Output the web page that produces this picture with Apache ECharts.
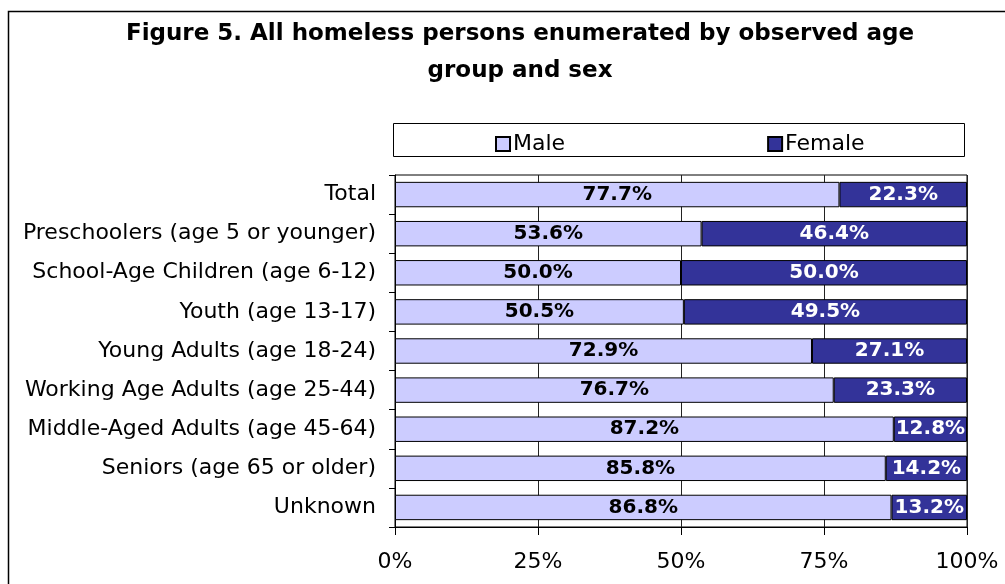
<!DOCTYPE html>
<html>
<head>
<meta charset="utf-8">
<script src="https://cdn.jsdelivr.net/npm/echarts@6/dist/echarts.min.js"></script>
<style>
  html, body { margin: 0; padding: 0; background: #fff; }
  #chart { width: 1005px; height: 584px; }
</style>
</head>
<body>
<div id="chart"></div>
<script>
// categories, top to bottom
const categories = [
  'Total',
  'Preschoolers (age 5 or younger)',
  'School-Age Children (age 6-12)',
  'Youth (age 13-17)',
  'Young Adults (age 18-24)',
  'Working Age Adults (age 25-44)',
  'Middle-Aged Adults (age 45-64)',
  'Seniors (age 65 or older)',
  'Unknown'
]
const maleValues = [77.7, 53.6, 50.0, 50.5, 72.9, 76.7, 87.2, 85.8, 86.8]
const femaleValues = [22.3, 46.4, 50.0, 49.5, 27.1, 23.3, 12.8, 14.2, 13.2]
const xTicks = [0, 25, 50, 75, 100]

const font = 'DejaVu Sans, Verdana, sans-serif'
const chart = echarts.init(document.getElementById('chart'))

const option = {
  animation: false,
  textStyle: { fontFamily: font },
  title: {
    text: 'Figure 5. All homeless persons enumerated by observed age\ngroup and sex',
    left: 515,
    top: 11,
    textAlign: 'center',
    textStyle: { fontSize: 23, fontWeight: 'bold', color: '#000', lineHeight: 37, fontFamily: font }
  },
  graphic: [
    // outer frame
    { type: 'rect', shape: { x: 8.5, y: 11.5, width: 1020, height: 620 }, style: { fill: 'none', stroke: '#000', lineWidth: 1.5 }, z: -1 },
    // legend box
    { type: 'rect', shape: { x: 393.5, y: 123.5, width: 571, height: 33 }, style: { fill: '#fff', stroke: '#000', lineWidth: 1 }, z: -1 }
  ],
  legend: {
    data: ['Male', 'Female'],
    left: 490,
    top: 128,
    itemGap: 202,
    itemWidth: 14,
    itemHeight: 14,
    icon: 'rect',
    textStyle: { fontSize: 22, color: '#000', fontFamily: font, padding: [0, 0, 0, -2] }
  },
  grid: {
    left: 395,
    right: 38,
    top: 175,
    bottom: 57,
    show: true,
    borderColor: '#000',
    borderWidth: 1,
    containLabel: false
  },
  xAxis: {
    type: 'value',
    min: 0,
    max: 100,
    interval: 25,
    axisLine: { show: true, lineStyle: { color: '#000' } },
    axisTick: { show: true, inside: false, length: 8, lineStyle: { color: '#000' } },
    axisLabel: {
      color: '#000',
      fontSize: 22,
      margin: 24,
      fontFamily: font,
      formatter: v => xTicks.includes(v) ? v + '%' : ''
    },
    splitLine: { show: true, lineStyle: { color: '#222', width: 1 } }
  },
  yAxis: {
    type: 'category',
    data: categories,
    inverse: true,
    axisLine: { show: true, lineStyle: { color: '#000' } },
    axisTick: { show: true, length: 6, lineStyle: { color: '#000' } },
    axisLabel: { color: '#000', fontSize: 22, margin: 19, fontFamily: font }
  },
  series: [
    {
      name: 'Male',
      type: 'bar',
      stack: 'total',
      data: maleValues,
      barCategoryGap: '35%',
      itemStyle: { color: '#CCCCFF', borderColor: '#000', borderWidth: 1 },
      label: {
        show: true,
        position: 'inside',
        formatter: p => p.value.toFixed(1) + '%',
        color: '#000',
        fontSize: 20,
        fontWeight: 'bold',
        fontFamily: font
      }
    },
    {
      name: 'Female',
      type: 'bar',
      stack: 'total',
      data: femaleValues,
      barCategoryGap: '35%',
      itemStyle: { color: '#333399', borderColor: '#000', borderWidth: 1 },
      label: {
        show: true,
        position: 'inside',
        formatter: p => p.value.toFixed(1) + '%',
        color: '#fff',
        fontSize: 20,
        fontWeight: 'bold',
        fontFamily: font
      }
    }
  ]
}

chart.setOption(option)
</script>
</body>
</html>
